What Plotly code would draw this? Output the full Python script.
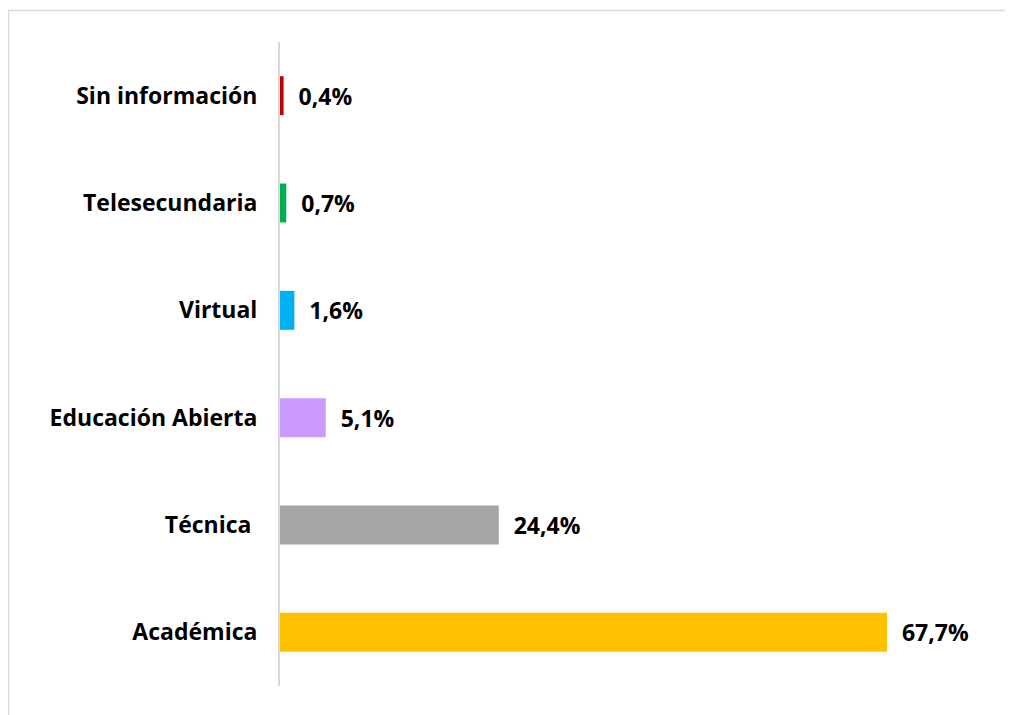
import plotly.graph_objects as go

categories = ["Académica", "Técnica\u00a0", "Educación Abierta", "Virtual", "Telesecundaria", "Sin información"]
values = [67.7, 24.4, 5.1, 1.6, 0.7, 0.4]
colors = ["#FFC000", "#A5A5A5", "#CC99FF", "#00B0F0", "#00B050", "#C00000"]
labels = [("\u00a0\u00a0" + f"{v:.1f}".replace(".", ",") + "%") for v in values]

FONT = "Open Sans"
FS = 23

# page has an 8px body margin; work in figure coordinates (page - 8)
W, H = 1005, 707
L, R, T, B = 272, 13, 34, 29
pw, ph = W - L - R, H - T - B
xmax = 67.7 * pw / (887 - 280)

fig = go.Figure(go.Bar(
    y=categories, x=values, orientation="h",
    marker=dict(color=colors, line=dict(width=0)),
    width=0.363,
    text=labels, textposition="outside", cliponaxis=False,
    textfont=dict(family=FONT, size=FS, color="#000000", weight="bold"),
    hoverinfo="skip",
))

fig.update_layout(
    width=W, height=H,
    margin=dict(l=L, r=R, t=T, b=B, pad=0),
    paper_bgcolor="white", plot_bgcolor="white",
    showlegend=False,
    xaxis=dict(range=[0, xmax], visible=False, fixedrange=True),
    yaxis=dict(
        range=[-0.5, 5.5], showgrid=False, zeroline=False,
        showline=True, linecolor="#D9D9D9", linewidth=2,
        ticks="outside", ticklen=16, tickcolor="rgba(0,0,0,0)",
        tickfont=dict(family=FONT, size=FS, color="#000000", weight="bold"),
        fixedrange=True,
    ),
    shapes=[dict(
        type="rect", xref="paper", yref="paper",
        x0=(0.5 - L) / pw, x1=(1004.5 - L) / pw,
        y0=-0.2, y1=(H - B - 2.5) / ph,
        line=dict(color="#D9D9D9", width=1.5), fillcolor="rgba(0,0,0,0)", layer="below",
    )],
)

fig.write_html("out.html")
